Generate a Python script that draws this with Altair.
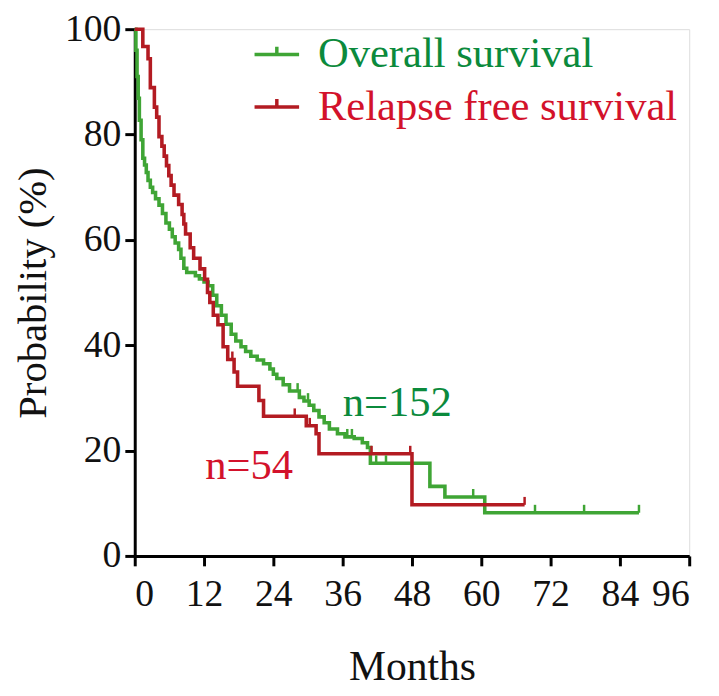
import altair as alt
import pandas as pd

# ---- data ----
months_ticks = [0, 12, 24, 36, 48, 60, 72, 84, 96]
prob_ticks = [0, 20, 40, 60, 80, 100]
series_names = ["Overall survival", "Relapse free survival"]

# Overall survival (n=152), step-after points (months, %)
os_time = [0, 0.2, 0.4, 0.6, 0.8, 1.1, 1.4, 1.7, 2.0, 2.3, 2.7, 3.1, 3.6, 4.2, 4.8,
           5.4, 6.0, 6.5, 7.0, 7.6, 8.0, 8.5, 9.0, 10.5, 11.2, 12.0, 12.7, 13.5,
           14.2, 15.0, 15.8, 16.7, 17.5, 18.4, 19.2, 20.1, 21.2, 22.3, 23.4, 24.0,
           24.6, 25.7, 26.8, 28.5, 29.3, 30.2, 31.0, 31.9, 32.8, 33.7, 35.1, 36.4,
           38.0, 39.4, 40.3, 40.8, 51.1, 53.7, 60.6, 87.3]
os_surv = [100, 96, 91, 86.9, 82.7, 79, 75.5, 74.2, 72.8, 71.3, 70, 69, 67.8, 66.6, 65,
           63.2, 62, 60.6, 59.4, 58.2, 56.5, 54.6, 53.8, 53.2, 52.6, 52, 51.3, 49.5,
           47.5, 45.7, 44, 42.1, 40.8, 39.7, 38.8, 37.9, 37.2, 36.5, 35.5, 34.5,
           33.7, 32.5, 31.3, 30.1, 29.4, 28.6, 27.6, 26.4, 25.3, 24.1, 23.2, 22.6,
           22.3, 21.5, 20.6, 17.6, 13.2, 11.2, 8.2, 8.2]
os_censor = [28.2, 30.0, 36.8, 37.6, 41.8, 43.5, 58.6, 69.3, 77.8, 87.3]

# Relapse free survival (n=54)
rfs_time = [0, 1.4, 2.3, 2.7, 3.4, 3.8, 4.2, 4.7, 5.1, 5.5, 5.9, 6.3, 6.8, 7.6, 8.2,
            8.5, 8.8, 9.6, 10.2, 11.3, 12.1, 12.6, 13.0, 13.6, 14.4, 15.3, 16.1,
            17.2, 17.8, 21.5, 22.3, 29.7, 31.4, 31.9, 48.0, 67.5]
rfs_surv = [100, 96.7, 94.4, 88.9, 85.2, 83.3, 79.6, 77.8, 75.9, 74.1, 72.2, 70.4,
            68.5, 66.7, 64.8, 63.0, 61.1, 58.5, 56.5, 54.5, 52.5, 50.0, 48.1, 45.7,
            43.9, 39.7, 37.3, 34.9, 32.2, 29.5, 26.5, 24.7, 23.2, 19.4, 9.7, 9.7]
rfs_censor = [16.9, 27.7, 30.3, 41.0, 47.7, 67.5]

annot_text = ["n=152", "n=54"]
annot_x = [36, 12.2]
annot_y = [29, 17]

GREEN_LINE = "#3fa535"
RED_LINE = "#b31b22"
GREEN_TEXT = "#0b8a3c"
RED_TEXT = "#d3122b"
FONT = "Liberation Serif"


def step_value(times, vals, t):
    v = vals[0]
    for ti, vi in zip(times, vals):
        if ti <= t:
            v = vi
    return v


rows = []
for t, s in zip(os_time, os_surv):
    rows.append({"series": series_names[0], "t": t, "p": s})
for t, s in zip(rfs_time, rfs_surv):
    rows.append({"series": series_names[1], "t": t, "p": s})
curves = pd.DataFrame(rows)

crows = []
for t in os_censor:
    crows.append({"series": series_names[0], "t": t, "p": step_value(os_time, os_surv, t)})
for t in rfs_censor:
    crows.append({"series": series_names[1], "t": t, "p": step_value(rfs_time, rfs_surv, t)})
censors = pd.DataFrame(crows)

annot = pd.DataFrame({"label": annot_text, "x": annot_x, "y": annot_y,
                      "series": series_names})

color_scale = alt.Scale(domain=series_names, range=[GREEN_LINE, RED_LINE])

x_enc = alt.X("t:Q", scale=alt.Scale(domain=[0, 96], nice=False, zero=False),
              axis=alt.Axis(values=months_ticks, title="Months", grid=False,
                            domainColor="black", domainWidth=3, tickColor="black",
                            tickWidth=3, tickSize=10, labelFontSize=38,
                            labelPadding=10, labelColor="#111", labelFont=FONT,
                            titleFont=FONT, titleFontSize=42, titleFontWeight="normal",
                            titleColor="#111", titleBaseline="alphabetic",
                            titleY=125, titleX=280, titleAlign="center"))
y_enc = alt.Y("p:Q", scale=alt.Scale(domain=[0, 100], nice=False),
              axis=alt.Axis(values=prob_ticks, title="Probability (%)", grid=False,
                            domainColor="black", domainWidth=3, tickColor="black",
                            tickWidth=3, tickSize=10, labelFontSize=38,
                            labelPadding=4, labelColor="#111", labelFont=FONT,
                            titleFont=FONT, titleFontSize=41, titleFontWeight="normal",
                            titleColor="#111", titleAngle=270, titleBaseline="alphabetic",
                            titleAlign="center", titleX=-90, titleY=266))

lines = alt.Chart(curves).mark_line(interpolate="step-after", strokeWidth=3.6).encode(
    x=x_enc,
    y=y_enc,
    color=alt.Color("series:N", scale=color_scale, sort=series_names,
                    legend=alt.Legend(
                        title=None, orient="none", legendX=119, legendY=1,
                        symbolType="M-1,0H1M0,0V-0.35", symbolSize=2025,
                        symbolStrokeWidth=3.5, labelFont=FONT, labelFontSize=43,
                        labelOffset=17, labelLimit=0, rowPadding=6, padding=0,
                        labelColor={"expr": "datum.label == 'Overall survival' ? '%s' : '%s'" % (GREEN_TEXT, RED_TEXT)},
                    )),
)

ticks = alt.Chart(censors).mark_point(shape="M0,0V-1", size=256, strokeWidth=2.5,
                                      filled=False, opacity=1).encode(
    x="t:Q", y="p:Q",
    color=alt.Color("series:N", scale=color_scale, legend=None),
)

txt_green = alt.Chart(annot[annot.series == series_names[0]]).mark_text(
    align="left", baseline="middle", font=FONT, fontSize=43, color=GREEN_TEXT
).encode(x="x:Q", y="y:Q", text="label:N")
txt_red = alt.Chart(annot[annot.series == series_names[1]]).mark_text(
    align="left", baseline="middle", font=FONT, fontSize=43, color=RED_TEXT
).encode(x="x:Q", y="y:Q", text="label:N")

chart = alt.layer(lines, ticks, txt_green, txt_red).properties(
    width=560, height=532,
    autosize=alt.AutoSizeParams(type="none"),
    padding={"left": 128, "top": 18, "right": 22, "bottom": 130},
).configure_view(stroke=None).configure(font=FONT, background="white")

chart.save("out.html", embed_options={"renderer": "svg", "actions": False})
